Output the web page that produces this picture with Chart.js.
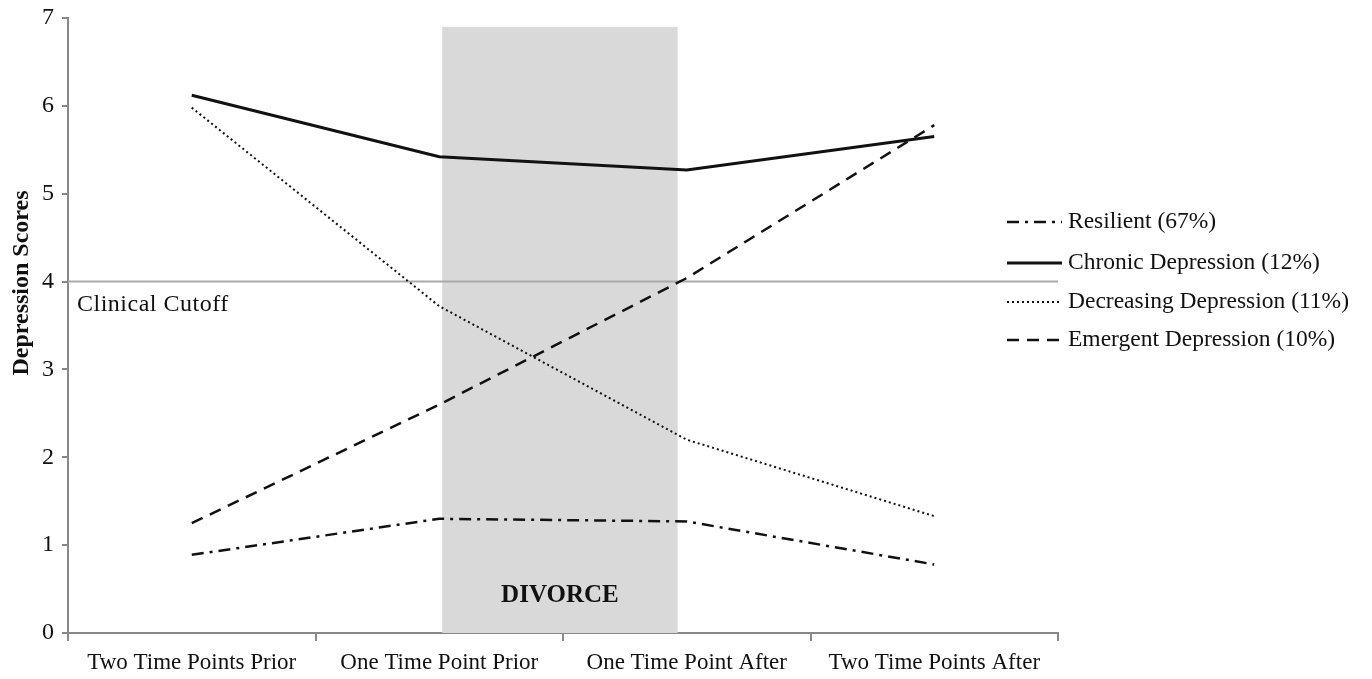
<!DOCTYPE html>
<html>
<head>
<meta charset="utf-8">
<script src="https://cdn.jsdelivr.net/npm/chart.js@4/dist/chart.umd.min.js"></script>
<style>
  html, body { margin: 0; padding: 0; background: #fff; }
  #wrap { width: 1372px; height: 679px; }
</style>
</head>
<body>
<div id="wrap"><canvas id="divorceChart"></canvas></div>
<script>
const categories = ['Two Time Points Prior', 'One Time Point Prior', 'One Time Point After', 'Two Time Points After'];
const resilient = [0.89, 1.30, 1.27, 0.78];
const chronic = [6.12, 5.42, 5.27, 5.65];
const decreasing = [5.98, 3.72, 2.20, 1.33];
const emergent = [1.25, 2.60, 4.04, 5.78];
const yTicks = [0, 1, 2, 3, 4, 5, 6, 7];
const cutoff = 4;

const FONT = '"Liberation Serif", "Times New Roman", serif';

// shaded divorce band, clinical cutoff line, y title and the legend
const extras = {
  id: 'extras',
  beforeDatasetsDraw(chart) {
    const { ctx, chartArea, scales: { x, y } } = chart;
    const p1 = x.getPixelForValue(1), p2 = x.getPixelForValue(2);
    const left = p1 + 0.012 * (p2 - p1), right = p1 + 0.963 * (p2 - p1);
    const top = y.getPixelForValue(6.9);
    ctx.save();
    ctx.fillStyle = '#d9d9d9';
    ctx.fillRect(left, top, right - left, chartArea.bottom - top);
    ctx.fillStyle = '#111';
    ctx.font = 'bold 25px ' + FONT;
    ctx.textAlign = 'center';
    ctx.textBaseline = 'middle';
    ctx.fillText('DIVORCE', (left + right) / 2, y.getPixelForValue(0.43));

    const cy = y.getPixelForValue(cutoff);
    ctx.strokeStyle = '#aaaaaa';
    ctx.lineWidth = 2;
    ctx.beginPath();
    ctx.moveTo(chartArea.left, cy);
    ctx.lineTo(chartArea.right, cy);
    ctx.stroke();
    ctx.fillStyle = '#111';
    ctx.font = '24px ' + FONT;
    ctx.textAlign = 'left';
    ctx.letterSpacing = '0.5px';
    ctx.fillText('Clinical Cutoff', chartArea.left + 9, cy + 23);
    ctx.letterSpacing = '0px';

    ctx.translate(22, 283);
    ctx.rotate(-Math.PI / 2);
    ctx.textAlign = 'center';
    ctx.font = 'bold 24px ' + FONT;
    ctx.fillText('Depression Scores', 0, 0);
    ctx.restore();
  },
  afterDraw(chart) {
    const { ctx } = chart;
    const rows = [222, 263, 302, 340];
    ctx.save();
    chart.data.datasets.forEach((ds, i) => {
      ctx.strokeStyle = ds.borderColor;
      ctx.lineWidth = ds.borderWidth;
      ctx.setLineDash(ds.borderDash || []);
      ctx.beginPath();
      ctx.moveTo(1007, rows[i]);
      ctx.lineTo(1062, rows[i]);
      ctx.stroke();
      ctx.setLineDash([]);
      ctx.fillStyle = '#111';
      ctx.font = '23.5px ' + FONT;
      ctx.textBaseline = 'middle';
      ctx.fillText(ds.label, 1068, rows[i]);
    });
    ctx.restore();
  }
};

new Chart(document.getElementById('divorceChart'), {
  type: 'line',
  data: {
    labels: categories,
    datasets: [
      { label: 'Resilient (67%)', data: resilient, borderColor: '#111', borderWidth: 2.5, borderDash: [12, 6, 3, 6] },
      { label: 'Chronic Depression (12%)', data: chronic, borderColor: '#111', borderWidth: 3 },
      { label: 'Decreasing Depression (11%)', data: decreasing, borderColor: '#111', borderWidth: 2, borderDash: [2, 3] },
      { label: 'Emergent Depression (10%)', data: emergent, borderColor: '#111', borderWidth: 2.5, borderDash: [12, 8] }
    ]
  },
  options: {
    responsive: true,
    maintainAspectRatio: false,
    animation: false,
    elements: { point: { radius: 0 }, line: { tension: 0 } },
    layout: { padding: { top: 18, right: 314, left: 0, bottom: 0 } },
    plugins: { legend: { display: false }, tooltip: { enabled: false } },
    scales: {
      x: {
        offset: true,
        grid: { display: true, drawOnChartArea: false, offset: true, tickLength: 8, color: '#888', lineWidth: 2 },
        border: { color: '#888', width: 2 },
        ticks: { color: '#111', font: { family: FONT, size: 23 }, padding: 8, maxRotation: 0, autoSkip: false },
        afterFit(s) { s.height = 46; }
      },
      y: {
        min: 0,
        max: 7,
        afterBuildTicks(s) { s.ticks = yTicks.map(v => ({ value: v })); },
        grid: { display: true, drawOnChartArea: false, tickLength: 6, color: '#888', lineWidth: 2 },
        border: { color: '#888', width: 2 },
        ticks: { color: '#111', font: { family: FONT, size: 24, lineHeight: 0.8 }, padding: 8 },
        afterFit(s) { s.width = 68; }
      }
    }
  },
  plugins: [extras]
});
</script>
</body>
</html>
